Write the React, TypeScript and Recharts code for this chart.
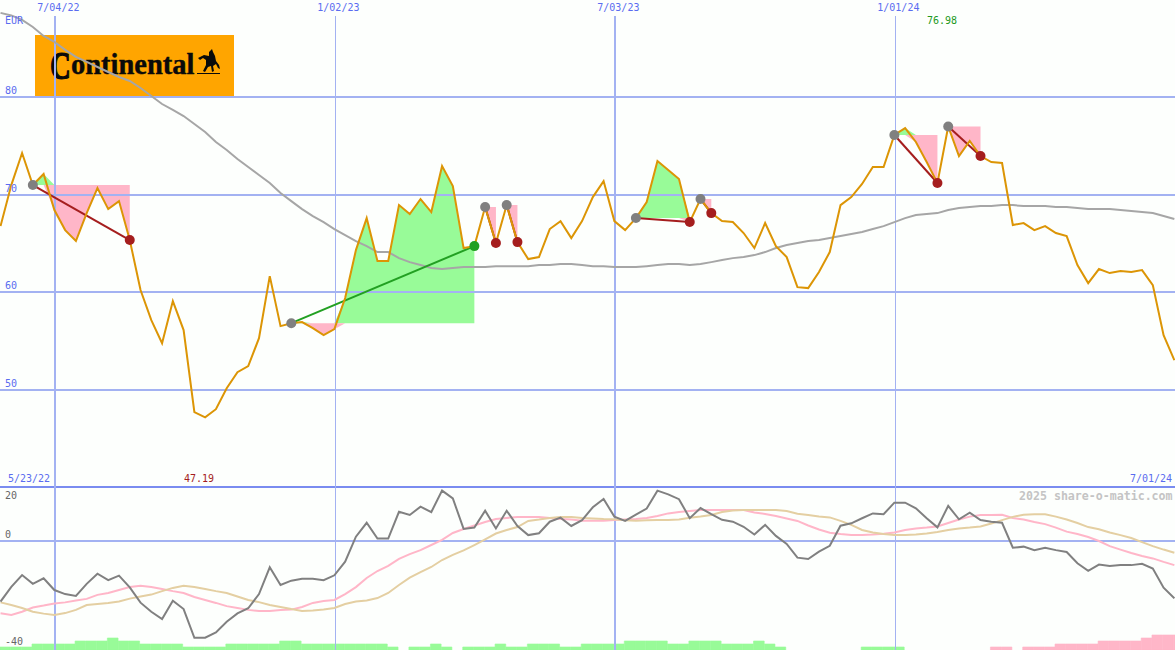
import React from 'react';
import { Area, Bar, ComposedChart, Line, ReferenceLine, XAxis, YAxis } from 'recharts';

// one point per week, first point is 5/30/22, last is 7/01/24
const price = [
  66.78, 70.98, 74.26, 70.98, 72.11, 68.42, 66.37, 65.25, 68.11, 70.68,
  68.52, 69.34, 65.35, 60.23, 57.15, 54.79, 59.10, 56.13, 47.73, 47.19,
  48.03, 50.18, 51.82, 52.44, 55.31, 61.66, 56.54, 56.84, 56.95, 56.33,
  55.61, 56.23, 59.41, 64.32, 67.60, 63.20, 63.20, 68.93, 68.01, 69.55,
  68.22, 72.93, 70.88, 64.53, 64.73, 68.73, 65.04, 68.93, 65.14, 63.40,
  63.61, 66.48, 67.29, 65.55, 67.29, 69.75, 71.39, 67.29, 66.37, 67.60,
  69.24, 73.44, 72.52, 71.60, 67.19, 69.55, 68.11, 67.29, 67.19, 66.07,
  64.53, 67.09, 64.73, 63.61, 60.53, 60.43, 62.07, 64.12, 68.93, 69.75,
  71.09, 72.83, 72.83, 76.11, 76.82, 75.39, 73.34, 71.19, 76.98, 73.95,
  75.49, 73.95, 73.34, 73.24, 66.89, 67.09, 66.37, 66.78, 66.07, 65.76,
  62.79, 60.94, 62.38, 61.97, 62.17, 62.07, 62.27, 60.74, 55.61, 53.05,
];

const movingAverage = [
  88.61, 88.35, 87.89, 87.17, 86.25, 85.64, 84.82, 84.10, 83.59, 83.07,
  82.56, 82.05, 81.64, 80.92, 80.10, 79.28, 78.67, 78.05, 77.23, 76.41,
  75.39, 74.57, 73.65, 72.83, 72.01, 71.19, 70.16, 69.34, 68.52, 67.81,
  67.19, 66.48, 65.86, 65.25, 64.73, 64.12, 64.12, 63.50, 63.09, 62.79,
  62.48, 62.38, 62.48, 62.58, 62.58, 62.58, 62.68, 62.68, 62.68, 62.68,
  62.79, 62.79, 62.89, 62.89, 62.79, 62.68, 62.68, 62.58, 62.58, 62.58,
  62.68, 62.79, 62.89, 62.89, 62.79, 62.89, 63.09, 63.30, 63.50, 63.61,
  63.81, 64.12, 64.53, 64.84, 65.04, 65.25, 65.35, 65.55, 65.76, 65.96,
  66.17, 66.48, 66.78, 67.19, 67.60, 67.91, 68.01, 68.11, 68.42, 68.63,
  68.73, 68.83, 68.83, 68.93, 68.93, 68.83, 68.83, 68.83, 68.73, 68.73,
  68.63, 68.52, 68.52, 68.52, 68.42, 68.32, 68.22, 68.11, 67.81, 67.50,
];

const momentum = [
  -22.6, -17.1, -12.7, -16.0, -13.9, -18.3, -19.8, -20.5, -16.0, -12.2,
  -14.6, -12.9, -17.3, -23.0, -26.4, -29.1, -22.3, -25.4, -36.1, -36.1,
  -34.1, -30.1, -27.0, -25.1, -19.8, -9.8, -16.4, -14.8, -14.1, -14.1,
  -14.6, -12.8, -7.7, 1.6, 6.8, 0.9, 0.9, 10.9, 9.7, 12.8,
  10.8, 18.8, 15.9, 4.5, 5.0, 11.3, 4.7, 11.3, 5.6, 2.2,
  2.9, 7.2, 8.7, 5.6, 7.8, 12.6, 15.7, 9.1, 7.5, 9.8,
  12.1, 18.8, 17.4, 15.6, 8.5, 12.3, 10.0, 7.9, 7.2, 5.3,
  2.4, 6.0, 1.9, -1.1, -6.2, -6.7, -4.0, -1.8, 5.7, 6.6,
  8.5, 10.3, 10.0, 14.3, 14.3, 12.2, 8.5, 5.1, 13.1, 8.1,
  10.6, 7.8, 7.2, 6.8, -2.5, -2.1, -3.4, -2.5, -3.4, -4.1,
  -8.3, -11.1, -8.8, -9.3, -9.0, -9.0, -8.5, -10.3, -17.4, -21.4,
];

const signalFast = [
  -27.0, -27.6, -26.4, -24.8, -24.1, -23.3, -22.9, -22.2, -21.6, -20.1,
  -19.4, -18.3, -17.2, -16.7, -17.2, -17.9, -18.7, -19.4, -20.9, -22.0,
  -23.1, -24.3, -25.0, -25.7, -26.1, -26.1, -25.7, -25.6, -24.6, -23.1,
  -22.4, -22.0, -19.8, -17.2, -13.8, -11.2, -9.3, -6.7, -4.9, -3.4,
  -1.5, 0.4, 3.0, 4.5, 5.8, 7.1, 8.2, 8.6, 9.0, 9.0,
  9.0, 8.6, 8.2, 8.0, 7.6, 7.6, 7.6, 7.8, 8.0, 8.2,
  8.6, 9.3, 10.3, 10.8, 11.2, 11.6, 11.6, 11.6, 11.6, 11.6,
  10.6, 10.1, 9.3, 8.4, 7.5, 5.8, 4.3, 3.1, 2.6, 2.2,
  2.2, 2.4, 2.7, 3.2, 4.1, 4.7, 5.0, 5.4, 6.7, 8.0,
  9.1, 9.7, 9.7, 9.8, 8.6, 8.0, 7.1, 6.3, 5.0, 3.5,
  2.6, 1.5, 0, -1.9, -3.2, -4.5, -5.6, -6.5, -7.8, -9.0,
];

const signalSlow = [
  -22.9, -23.9, -25.0, -26.4, -27.1, -27.6, -26.9, -25.7, -23.9, -23.5,
  -23.1, -22.6, -21.5, -20.7, -20.0, -18.7, -17.5, -16.7, -17.2, -17.9,
  -18.7, -19.4, -20.7, -22.0, -22.8, -23.9, -24.6, -25.4, -26.1, -25.9,
  -25.6, -25.0, -23.5, -22.6, -22.2, -21.3, -19.4, -16.4, -13.7, -11.6,
  -9.7, -7.1, -5.2, -3.5, -1.5, 0.6, 2.8, 4.1, 5.2, 7.5,
  8.0, 8.6, 9.0, 9.0, 8.6, 8.4, 8.2, 8.1, 7.7, 7.6,
  7.7, 7.8, 7.8, 8.0, 8.7, 9.1, 9.7, 10.8, 11.4, 11.6,
  11.6, 11.6, 11.6, 11.2, 10.2, 9.7, 9.1, 8.8, 7.5, 6.0,
  4.1, 3.2, 2.6, 2.2, 2.2, 2.4, 2.8, 3.4, 4.1, 4.7,
  5.0, 5.4, 6.5, 7.8, 9.0, 9.8, 10.0, 10.0, 9.1, 8.0,
  6.7, 5.2, 4.4, 3.2, 2.2, 1.1, -0.4, -1.9, -3.2, -4.4,
];

const strengthUp = [
  1, 1, 1, 2, 2, 2, 2, 3, 3, 3,
  4, 3, 3, 2, 2, 2, 2, 1, 1, 1,
  1, 2, 2, 2, 2, 2, 3, 3, 2, 2,
  2, 2, 2, 2, 2, 2, 1, 0, 1, 1,
  2, 1, 0, 1, 1, 1, 2, 1, 1, 2,
  2, 2, 1, 1, 2, 2, 2, 2, 3, 3,
  3, 3, 2, 2, 3, 3, 3, 2, 2, 2,
  3, 2, 1, 0, 0, 0, 0, 0, 0, 0,
  1, 1, 1, 1, 0, 0, 0, 0, 0, 0,
  0, 0, 0, 0, 0, 0, 0, 0, 0, 0,
  0, 0, 0, 0, 0, 0, 0, 0, 0, 0,
];

const strengthDown = [
  0, 0, 0, 0, 0, 0, 0, 0, 0, 0,
  0, 0, 0, 0, 0, 0, 0, 0, 0, 0,
  0, 0, 0, 0, 0, 0, 0, 0, 0, 0,
  0, 0, 0, 0, 0, 0, 0, 0, 0, 0,
  0, 0, 0, 0, 0, 0, 0, 0, 0, 0,
  0, 0, 0, 0, 0, 0, 0, 0, 0, 0,
  0, 0, 0, 0, 0, 0, 0, 0, 0, 0,
  0, 0, 0, 0, 0, 0, 0, 0, 0, 0,
  0, 0, 0, 0, 0, 0, 0, 0, 0, 0,
  0, 0, 1, 1, 0, 1, 1, 1, 2, 2,
  2, 2, 3, 3, 3, 3, 4, 5, 5, 5,
];

const tradeEntries = [3, 27, 45, 47, 59, 65, 83, 88];
const tradeExits = [12, 44, 46, 48, 64, 66, 87, 91];

const dateTicks = [5, 31, 57, 83];
const dateLabels = ['7/04/22', '1/02/23', '7/03/23', '1/01/24'];
const priceTicks = [80, 70, 60, 50];
const lowerTicks = [20, 0, -40];

const WIDTH = 1175;
const UPPER_HEIGHT = 489;
const LOWER_TOP = 487;
const LOWER_HEIGHT = 163;
const X_DOMAIN: [number, number] = [-0.05, 109.06];
const BAR_SHIFT = 0.42;
// date lines sit a hair right of the week point in the original
const GRID_NUDGE = 0.08;

const FONT = '"DejaVu Sans Mono", monospace';
const BLUE = '#5a6cf0';
const GRID = '#a3b2f2';
const GREEN_FILL = '#98fb98';
const PINK_FILL = '#ffb6c8';

const rows = price.map((p, i) => {
  const row: Record<string, any> = {
    week: i,
    price: p,
    average: movingAverage[i],
    momentum: momentum[i],
    fast: signalFast[i],
    slow: signalSlow[i],
    up: strengthUp[i],
    down: strengthDown[i],
    entryDot: null,
    lossDot: null,
    winDot: null,
  };
  tradeEntries.forEach((entry, t) => {
    const exit = tradeExits[t];
    if (i < entry || i > exit) return;
    const base = price[entry];
    row[`gain${t}`] = [base, Math.max(p, base)];
    row[`loss${t}`] = [Math.min(p, base), base];
    if (i === entry || i === exit) row[`trade${t}`] = p;
    if (i === entry) row.entryDot = p;
    if (i === exit) {
      if (p > base) row.winDot = p;
      else row.lossDot = p;
    }
  });
  return row;
});

const DateTick = ({ x, payload }: any) => (
  <text x={x + 4} y={11} textAnchor="middle" fontFamily={FONT} fontSize={10} fill={BLUE}>
    {dateLabels[dateTicks.indexOf(payload.value)]}
  </text>
);

const PriceTick = ({ y, payload }: any) => (
  <text x={5} y={y - 3} fontFamily={FONT} fontSize={10} fill={BLUE}>
    {payload.value}
  </text>
);

const LowerTick = ({ y, payload }: any) => (
  <text x={5} y={payload.value === 20 ? y + 12 : y - 3} fontFamily={FONT} fontSize={10} fill="#666">
    {payload.value}
  </text>
);

const Note = ({ left, top, color, children, ...rest }: any) => (
  <div
    style={{
      position: 'absolute',
      left,
      top,
      color,
      font: `10px ${FONT}`,
      lineHeight: '12px',
      whiteSpace: 'pre',
      ...rest,
    }}
  >
    {children}
  </div>
);

const Logo = () => (
  <svg
    width={199}
    height={61}
    style={{ position: 'absolute', left: 35, top: 35, background: '#ffa500' }}
  >
    <g transform="translate(-35,-35)" fill="#0a0a0a" fontFamily='"Liberation Serif", serif' fontWeight="bold">
      <text transform="translate(50,79) scale(0.72,1)" fontSize={40} stroke="#0a0a0a" strokeWidth={1.2}>C</text>
      <text x={71} y={73.5} fontSize={28.5} stroke="#0a0a0a" strokeWidth={0.4}>ontinental</text>
      <path d="M198,58 L204,55 L209,56 L209,52 L212,49 L213,52 L215,56 L216,61 L219,65 L220,69 L218,68 L216,64 L213,66 L214,71 L212,72 L211,66 L208,67 L205,72 L203,71 L206,65 L206,60 L203,58 L200,60 Z" />
      <rect x={197} y={73} width={23} height={1} />
    </g>
  </svg>
);

const UpperChart = () => (
  <ComposedChart
    width={WIDTH}
    height={UPPER_HEIGHT}
    data={rows}
    margin={{ top: 0, right: 0, bottom: 0, left: 0 }}
    style={{ position: 'absolute', left: 0, top: 0 }}
  >
    <XAxis
      dataKey="week"
      type="number"
      orientation="top"
      mirror
      height={1}
      domain={X_DOMAIN}
      allowDataOverflow
      ticks={dateTicks}
      interval={0}
      axisLine={false}
      tickLine={false}
      tick={DateTick}
    />
    <YAxis
      type="number"
      mirror
      width={1}
      domain={[39.86, 89.93]}
      allowDataOverflow
      ticks={priceTicks}
      interval={0}
      axisLine={false}
      tickLine={false}
      tick={PriceTick}
    />
    {priceTicks.map((v) => (
      <ReferenceLine key={v} y={v} stroke={GRID} strokeWidth={2} shapeRendering="crispEdges" />
    ))}
    <ReferenceLine y={40.07} stroke="#7a8cf0" strokeWidth={2} shapeRendering="crispEdges" />
    {dateTicks.map((w, n) => (
      <ReferenceLine
        key={w}
        segment={[{ x: w + GRID_NUDGE, y: 88.3 }, { x: w + GRID_NUDGE, y: 40.07 }]}
        stroke={GRID}
        strokeWidth={n % 2 === 0 ? 2 : 1}
        shapeRendering="crispEdges"
      />
    ))}
    <Line dataKey="entryDot" stroke="none" dot={{ r: 5, fill: '#808080', stroke: 'none' }} activeDot={false} isAnimationActive={false} />
    {tradeEntries.map((_, t) => (
      <Area key={`g${t}`} dataKey={`gain${t}`} stroke="none" fill={GREEN_FILL} fillOpacity={1} dot={false} activeDot={false} isAnimationActive={false} />
    ))}
    {tradeEntries.map((_, t) => (
      <Area key={`l${t}`} dataKey={`loss${t}`} stroke="none" fill={PINK_FILL} fillOpacity={1} dot={false} activeDot={false} isAnimationActive={false} />
    ))}
    <Line dataKey="average" stroke="#a6a6a6" strokeWidth={2} dot={false} activeDot={false} isAnimationActive={false} />
    <Line dataKey="lossDot" stroke="none" dot={{ r: 5, fill: '#a51e1e', stroke: 'none' }} activeDot={false} isAnimationActive={false} />
    <Line dataKey="winDot" stroke="none" dot={{ r: 5, fill: '#22a022', stroke: 'none' }} activeDot={false} isAnimationActive={false} />
    {tradeEntries.map((entry, t) => (
      <Line
        key={`t${t}`}
        dataKey={`trade${t}`}
        connectNulls
        stroke={price[tradeExits[t]] > price[entry] ? '#22a022' : '#a51e1e'}
        strokeWidth={2}
        dot={false}
        activeDot={false}
        isAnimationActive={false}
      />
    ))}
    <Line dataKey="price" stroke="#dc9505" strokeWidth={2} dot={false} activeDot={false} isAnimationActive={false} />
  </ComposedChart>
);

const LowerChart = () => (
  <ComposedChart
    width={WIDTH}
    height={LOWER_HEIGHT}
    data={rows}
    margin={{ top: 0, right: 0, bottom: 0, left: 0 }}
    style={{ position: 'absolute', left: 0, top: LOWER_TOP }}
  >
    <XAxis dataKey="week" type="number" hide domain={X_DOMAIN} allowDataOverflow />
    <XAxis
      xAxisId="bars"
      dataKey="week"
      type="number"
      hide
      domain={[X_DOMAIN[0] - BAR_SHIFT, X_DOMAIN[1] - BAR_SHIFT]}
      allowDataOverflow
    />
    <YAxis
      type="number"
      mirror
      width={1}
      domain={[-40.67, 20.15]}
      allowDataOverflow
      ticks={lowerTicks}
      interval={0}
      axisLine={false}
      tickLine={false}
      tick={LowerTick}
    />
    <YAxis yAxisId="bars" type="number" hide domain={[0, 54.33]} allowDataOverflow />
    <ReferenceLine y={0} stroke={GRID} strokeWidth={2} shapeRendering="crispEdges" />
    {dateTicks.map((w, n) => (
      <ReferenceLine key={w} x={w + GRID_NUDGE} stroke={GRID} strokeWidth={n % 2 === 0 ? 2 : 1} shapeRendering="crispEdges" />
    ))}
    <Bar xAxisId="bars" yAxisId="bars" dataKey="up" stackId="strength" barSize={10.7} fill={GREEN_FILL} stroke={GREEN_FILL} strokeWidth={0.6} isAnimationActive={false} />
    <Bar xAxisId="bars" yAxisId="bars" dataKey="down" stackId="strength" barSize={10.7} fill={PINK_FILL} stroke={PINK_FILL} strokeWidth={0.6} isAnimationActive={false} />
    <Line dataKey="fast" stroke="#ffb6c8" strokeWidth={2} dot={false} activeDot={false} isAnimationActive={false} />
    <Line dataKey="slow" stroke="#e4cfa2" strokeWidth={2} dot={false} activeDot={false} isAnimationActive={false} />
    <Line dataKey="momentum" stroke="#808080" strokeWidth={2} dot={false} activeDot={false} isAnimationActive={false} />
  </ComposedChart>
);

export default function App() {
  return (
    <div style={{ position: 'absolute', left: 0, top: 0, width: WIDTH, height: 650, overflow: 'hidden', background: '#fdfffd' }}>
      <Logo />
      <UpperChart />
      <LowerChart />
      <Note left={5} top={15} color={BLUE}>EUR</Note>
      <Note left={927} top={15} color="#229922">76.98</Note>
      <Note left={184} top={473} color="#a51e1e">47.19</Note>
      <Note left={8} top={473} color={BLUE}>5/23/22</Note>
      <Note left={1130} top={473} color={BLUE}>7/01/24</Note>
      <Note left={1019} top={490} color="#c4c4c4" fontWeight="bold" fontSize={11.6}>2025 share-o-matic.com</Note>
    </div>
  );
}
